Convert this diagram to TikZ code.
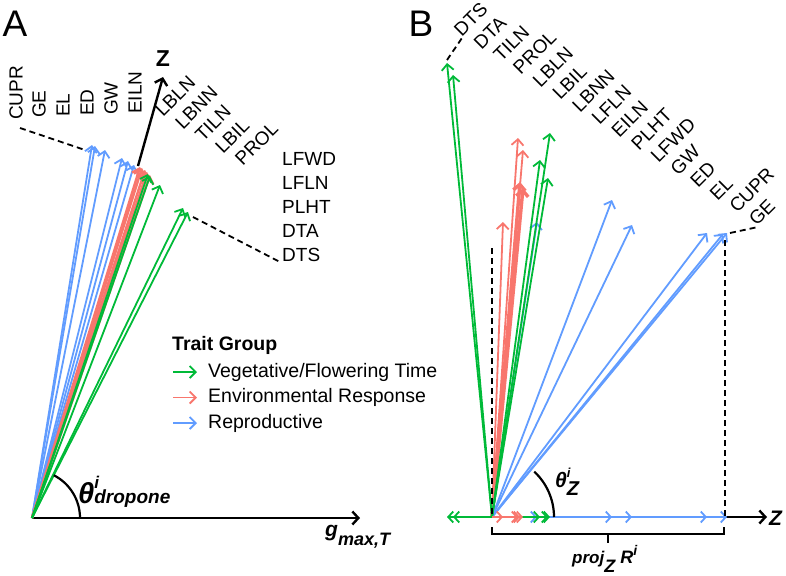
\documentclass[tikz,border=0pt]{standalone}
\usepackage{fontspec}
\setmainfont{Liberation Sans}
\usetikzlibrary{arrows.meta}
\definecolor{vegcol}{HTML}{00BA38}
\definecolor{envcol}{HTML}{F8766D}
\definecolor{repcol}{HTML}{619CFF}
\tikzset{
  vec/.style={
    line width=1.8pt,
    -{Straight Barb[length=6pt,width=12pt]}
  },
  projvec/.style={
    line width=1.8pt,
    -{Straight Barb[length=5pt,width=11pt]}
  },
  axis/.style={
    line width=2.4pt,
    -{Straight Barb[length=6pt,width=13pt]}
  },
  guide/.style={
    line width=1.8pt,
    dash pattern=on 6pt off 4pt
  },
  lab/.style={
    inner sep=0pt,
    font=\fontsize{19}{20}\selectfont
  },
  leg/.style={
    inner sep=0pt,
    anchor=west,
    font=\fontsize{19.5}{21}\selectfont
  },
  panel/.style={
    inner sep=0pt,
    font=\fontsize{37}{40}\selectfont
  }
}
\newcommand{\fs}[1]{\fontsize{#1}{#1}\selectfont}

\begin{document}
\begin{tikzpicture}[x=1pt,y=-1pt]
  \useasboundingbox (0,0) rectangle (786,575);
  \coordinate (oA) at (32,518);
  \coordinate (oB) at (492,517);
  %
  % panel A
  \node[panel] (pA) at (15,24) {A};
  \draw[axis] (oA) -- (360,518);
  \coordinate (zA0) at (138,166);
  \draw[axis] (zA0) -- (163,77);
  \node[inner sep=0pt,font=\fs{23}\bfseries] (zA) at (163,59) {Z};
  \foreach \c/\x/\y in {repcol/92/145,repcol/95/146,repcol/105/150,repcol/122/158,repcol/128/161,repcol/134/165}
    \draw[vec,color=\c] (oA) -- (\x,\y);
  \foreach \x/\y in {140/167,142/168,145/170,147/172,150/175}
    \draw[vec,line width=2.4pt,color=envcol] (oA) -- (\x,\y);
  \foreach \x/\y in {148/174,150/176,160/185,183/208,188/212}
    \draw[vec,color=vegcol] (oA) -- (\x,\y);
  \draw[guide] (20,128) -- (85,150);
  \draw[guide] (193,217) -- (280,262);
  \draw[line width=2.2pt] ([xshift=48pt]oA) arc[start angle=0,end angle=63,radius=48pt];
  \node[inner sep=0pt,anchor=base west,font=\bfseries\itshape] (thA) at (78,503)
    {{\fs{29}θ}\rlap{\raisebox{15pt}{\fs{17}i}}{\fs{19}dropone}};
  \node[inner sep=0pt,anchor=base west,font=\bfseries\itshape] (gA) at (325,536)
    {{\fs{21}g}\raisebox{-9pt}{\fs{18}max,T}};
  %
  \foreach \t/\x/\y in {CUPR/16/120,GE/39/118,EL/63/117,ED/87/116,GW/111/115,EILN/135/114}
    \node[lab,rotate=90,anchor=west] (a\t) at (\x,\y) {\t};
  \foreach \t [count=\k from 0] in {LBLN,LBNN,TILN,LBIL,PROL}
    \node[lab,rotate=45,anchor=south west] (a\t) at ({163+20*\k},{118+12.3*\k}) {\t};
  \foreach \t [count=\k from 0] in {LFWD,LFLN,PLHT,DTA,DTS}
    \node[lab,anchor=west] (a\t) at (282,{159+24*\k}) {\t};
  %
  % legend
  \node[leg,font=\fs{19.5}\bfseries] (legT) at (172,345) {Trait Group};
  \foreach \c/\t [count=\k from 0] in {vegcol/{Vegetative/Flowering Time},envcol/{Environmental Response},repcol/{Reproductive}}{
    \draw[vec,color=\c] (173,{372+25.5*\k}) -- (197,{372+25.5*\k});
    \node[leg] (leg\k) at (208,{372+25.5*\k}) {\t};
  }
  %
  % panel B
  \node[panel] (pB) at (421,24) {B};
  \draw[axis] (oB) -- (767,517);
  \node[inner sep=0pt,anchor=west,font=\fs{21}\bfseries\itshape] (zB) at (769,518) {Z};
  \foreach \x/\y in {503/222,518/138,523/150}
    \draw[vec,color=envcol] (oB) -- (\x,\y);
  \foreach \x/\y in {520/182,523/188}
    \draw[vec,line width=3.4pt,color=envcol] (oB) -- (\x,\y);
  \foreach \c/\x/\y in {repcol/537/222,repcol/612/200,repcol/632/225,repcol/707/233,repcol/723/234,repcol/727/233,
      vegcol/447/63,vegcol/453/75,vegcol/550/133,vegcol/540/160,vegcol/548/178}
    \draw[vec,color=\c] (oB) -- (\x,\y);
  \foreach \c/\x in {repcol/727,repcol/707,repcol/632,repcol/612,repcol/537,
      vegcol/550,vegcol/548,vegcol/540,envcol/523,envcol/520,envcol/518,envcol/503,
      vegcol/447,vegcol/453}
    \draw[projvec,color=\c] (oB) -- (\x,517);
  \draw[guide] (492,248) -- (oB);
  \draw[guide] (725,240) -- (725,517);
  \draw[guide] (447,60) -- (462,38);
  \draw[guide] (730,233) -- (758,227);
  \draw[line width=2.2pt] ([xshift=62pt]oB) arc[start angle=0,end angle=47,radius=62pt];
  \node[inner sep=0pt,anchor=base west,font=\bfseries\itshape] (thB) at (555,487)
    {{\fs{21}θ}\rlap{\raisebox{10pt}{\fs{13}i}}\raisebox{-8pt}{\fs{20}Z}};
  \draw[line width=2.2pt] (492,527) -- (492,534) -- (724,534) -- (724,527);
  \draw[line width=2.2pt] (608,534) -- (608,543);
  \node[inner sep=0pt,anchor=base west,font=\bfseries\itshape] (prB) at (572,563)
    {{\fs{17}proj}\raisebox{-9pt}{\fs{18}Z}\hspace{5pt}{\fs{18}R}\raisebox{8pt}{\fs{14}i}};
  %
  \foreach \t [count=\k from 0] in {DTS,DTA,TILN,PROL,LBLN,LBIL,LBNN,LFLN,EILN,PLHT,LFWD,GW,ED,EL,CUPR,GE}
    \node[lab,rotate=45,anchor=south west] (b\t) at ({462+19.67*\k},{38+12.6*\k}) {\t};
\end{tikzpicture}
\end{document}
